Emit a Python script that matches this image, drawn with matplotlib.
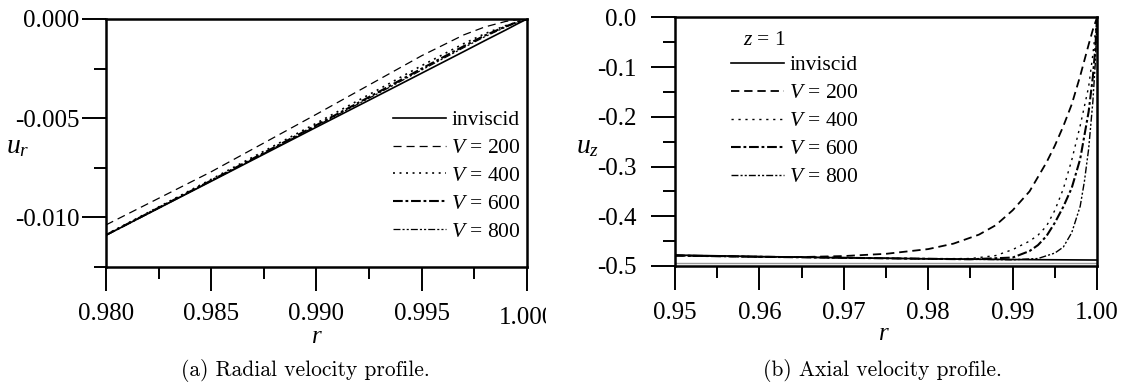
"""
Radial and axial velocity profiles near the wall
"""

import numpy as np
import matplotlib
matplotlib.use('Agg')
import matplotlib.pyplot as plt
from matplotlib.ticker import MultipleLocator
from matplotlib.transforms import Bbox, TransformedBbox

# ---- data: radial velocity (panel a) ----
r_a = [0.98, 0.985, 0.99, 0.993, 0.995, 0.997, 0.998, 0.999, 0.9995, 1.0]
ur_inviscid = [-0.01090, -0.00818, -0.00545, -0.00382, -0.00273, -0.00164, -0.00109, -0.00055, -0.00027, 0.0]
ur_v200 = [-0.01038, -0.00770, -0.00480, -0.00303, -0.00185, -0.00080, -0.00040, -0.00012, -0.00004, 0.0]
ur_v400 = [-0.01087, -0.00808, -0.00525, -0.00352, -0.00235, -0.00124, -0.00074, -0.00033, -0.00017, 0.0]
ur_v600 = [-0.01089, -0.00814, -0.00535, -0.00365, -0.00250, -0.00137, -0.00083, -0.00037, -0.00017, 0.0]
ur_v800 = [-0.01090, -0.00816, -0.00539, -0.00371, -0.00257, -0.00144, -0.00089, -0.00040, -0.00019, 0.0]

# ---- data: axial velocity at z = 1 (panel b) ----
r_inv = [0.95, 0.96, 0.97, 0.98, 0.99, 1.0]
uz_inviscid = [-0.478, -0.481, -0.4835, -0.4855, -0.487, -0.488]
uz_floor = -0.493  # faint grey line just above the axis

r_200 = [0.95, 0.96, 0.965, 0.97, 0.975, 0.98, 0.983, 0.986, 0.988, 0.990,
         0.992, 0.994, 0.995, 0.996, 0.997, 0.998, 0.999, 0.9995, 1.0]
uz_v200 = [-0.479, -0.4815, -0.482, -0.480, -0.4755, -0.466, -0.455, -0.437, -0.418, -0.388,
           -0.350, -0.292, -0.258, -0.219, -0.175, -0.118, -0.055, -0.025, 0.0]

r_400 = [0.95, 0.96, 0.97, 0.98, 0.985, 0.988, 0.990, 0.992, 0.993, 0.994,
         0.995, 0.996, 0.997, 0.998, 0.999, 0.9995, 1.0]
uz_v400 = [-0.479, -0.4815, -0.4835, -0.4855, -0.485, -0.479, -0.467, -0.450, -0.438, -0.420,
           -0.388, -0.345, -0.287, -0.218, -0.140, -0.075, 0.0]

r_600 = [0.95, 0.96, 0.97, 0.98, 0.985, 0.99, 0.992, 0.993, 0.994, 0.995,
         0.996, 0.997, 0.998, 0.999, 0.9995, 0.9998, 1.0]
uz_v600 = [-0.479, -0.4815, -0.4835, -0.4855, -0.4865, -0.483, -0.470, -0.458, -0.440, -0.413,
           -0.381, -0.343, -0.285, -0.190, -0.120, -0.060, 0.0]

r_800 = [0.95, 0.96, 0.97, 0.98, 0.99, 0.993, 0.995, 0.996, 0.997, 0.998,
         0.9985, 0.999, 0.9995, 0.9998, 1.0]
uz_v800 = [-0.479, -0.4815, -0.4835, -0.4855, -0.4875, -0.485, -0.474, -0.462, -0.433, -0.380,
           -0.330, -0.265, -0.170, -0.090, 0.0]

labels = ['inviscid', '$V$ = 200', '$V$ = 400', '$V$ = 600', '$V$ = 800']

xticks_a = [0.980, 0.985, 0.990, 0.995, 1.000]
yticks_a = [0.000, -0.005, -0.010]
xticks_b = [0.95, 0.96, 0.97, 0.98, 0.99, 1.00]
yticks_b = [0.0, -0.1, -0.2, -0.3, -0.4, -0.5]

plt.rcParams['font.family'] = ['Liberation Serif', 'DejaVu Serif']
plt.rcParams['mathtext.fontset'] = 'custom'
plt.rcParams['mathtext.rm'] = 'Liberation Serif'
plt.rcParams['mathtext.it'] = 'Liberation Serif:italic'
plt.rcParams['axes.unicode_minus'] = False
plt.rcParams['lines.scale_dashes'] = False

# line styles per series: (linewidth, dash pattern)
styles_a = [(1.2, None), (0.9, (5.8, 3.6)), (1.2, (1.4, 3.3)),
            (1.5, (7, 2, 2, 2)), (0.9, (5, 1.5, 1.5, 1.5, 1.5, 1.5))]
styles_b = [(1.2, None), (1.3, (6, 3.5)), (1.0, (1.6, 3.4)),
            (1.5, (7, 2, 2, 2)), (1.0, (5, 1.5, 1.5, 1.5, 1.5, 1.5))]


def draw(ax, x, y, style):
    lw, dashes = style
    if dashes is None:
        return ax.plot(x, y, color='k', lw=lw)[0]
    return ax.plot(x, y, color='k', lw=lw, dashes=dashes)[0]


def style_axes(ax, ypad):
    for s in ax.spines.values():
        s.set_linewidth(1.8)
    ax.tick_params(which='both', direction='out', width=1.4, labelsize=18,
                   top=False, right=False)
    ax.tick_params(which='major', length=17)
    ax.tick_params(which='minor', length=8.5)
    ax.tick_params(axis='x', which='major', pad=9)
    ax.tick_params(axis='y', which='major', pad=ypad)


fig = plt.figure(figsize=(11.26, 3.83), dpi=100)
ax1 = fig.add_axes([0.0941, 0.3029, 0.3739, 0.6475])
ax2 = fig.add_axes([0.5995, 0.3055, 0.3748, 0.6493])

# ---------- (a) radial velocity ----------
series_a = [ur_inviscid, ur_v200, ur_v400, ur_v600, ur_v800]
handles_a = [draw(ax1, r_a, y, st) for y, st in zip(series_a, styles_a)]
ax1.set_xlim(0.98, 1.0)
ax1.set_ylim(-0.0125, 0.0)
ax1.set_xticks(xticks_a)
ax1.set_xticklabels(['%.3f' % v for v in xticks_a[:-1]] + [''])
ax1.set_yticks(yticks_a)
ax1.set_yticklabels(['%.3f' % v for v in yticks_a])
ax1.xaxis.set_minor_locator(MultipleLocator(0.0025))
ax1.yaxis.set_minor_locator(MultipleLocator(0.0025))
style_axes(ax1, 2)

# last x label is cut by the panel edge in the original figure
t = ax1.text(1.0, -0.205, '%.3f' % xticks_a[-1], transform=ax1.get_xaxis_transform(),
             ha='center', va='center', fontsize=18)
t.set_clip_box(TransformedBbox(Bbox.from_extents(0, 0, 0.4845, 1), fig.transFigure))
t.set_clip_on(True)

ax1.set_xlabel('$r$', fontsize=18, va='center')
ax1.xaxis.set_label_coords(0.5, -0.282)
ax1.set_ylabel('$u_r$', fontsize=20, rotation=0, va='center', ha='center')
ax1.yaxis.set_label_coords(-0.209, 0.484)

ax1.legend(handles_a, labels, loc='upper left', bbox_to_anchor=(0.682, 0.632), frameon=False,
           fontsize=15.5, handlelength=2.45, handletextpad=0.25, labelspacing=0.36,
           borderpad=0, borderaxespad=0)

# ---------- (b) axial velocity ----------
r_b = [r_inv, r_200, r_400, r_600, r_800]
series_b = [uz_inviscid, uz_v200, uz_v400, uz_v600, uz_v800]
ax2.plot([r_inv[0], r_inv[-1]], [uz_floor, uz_floor], color='#9a9a9a', lw=1.0)
handles_b = [draw(ax2, x, y, st) for x, y, st in zip(r_b, series_b, styles_b)]
ax2.set_xlim(0.95, 1.0)
ax2.set_ylim(-0.5, 0.0)
ax2.set_xticks(xticks_b)
ax2.set_xticklabels(['%.2f' % v for v in xticks_b])
ax2.set_yticks(yticks_b)
ax2.set_yticklabels(['%.1f' % v for v in yticks_b])
ax2.xaxis.set_minor_locator(MultipleLocator(0.005))
ax2.yaxis.set_minor_locator(MultipleLocator(0.05))
style_axes(ax2, 11)

ax2.set_xlabel('$r$', fontsize=18, va='center')
ax2.xaxis.set_label_coords(0.495, -0.275)
ax2.set_ylabel('$u_z$', fontsize=20, rotation=0, va='center', ha='center')
ax2.yaxis.set_label_coords(-0.206, 0.48)

ax2.text(0.161, 0.905, '$z$ = 1', transform=ax2.transAxes, fontsize=15.5,
         ha='left', va='center')
ax2.legend(handles_b, labels, loc='upper left', bbox_to_anchor=(0.133, 0.848), frameon=False,
           fontsize=15.5, handlelength=2.45, handletextpad=0.25, labelspacing=0.37,
           borderpad=0, borderaxespad=0)

# captions
fig.text(305 / 1126, 1 - 370 / 383, '(a) Radial velocity profile.', family='cmr10',
         fontsize=15.5, ha='center', va='center')
fig.text(882 / 1126, 1 - 370 / 383, '(b) Axial velocity profile.', family='cmr10',
         fontsize=15.5, ha='center', va='center')

fig.savefig('out.png', dpi=100)
